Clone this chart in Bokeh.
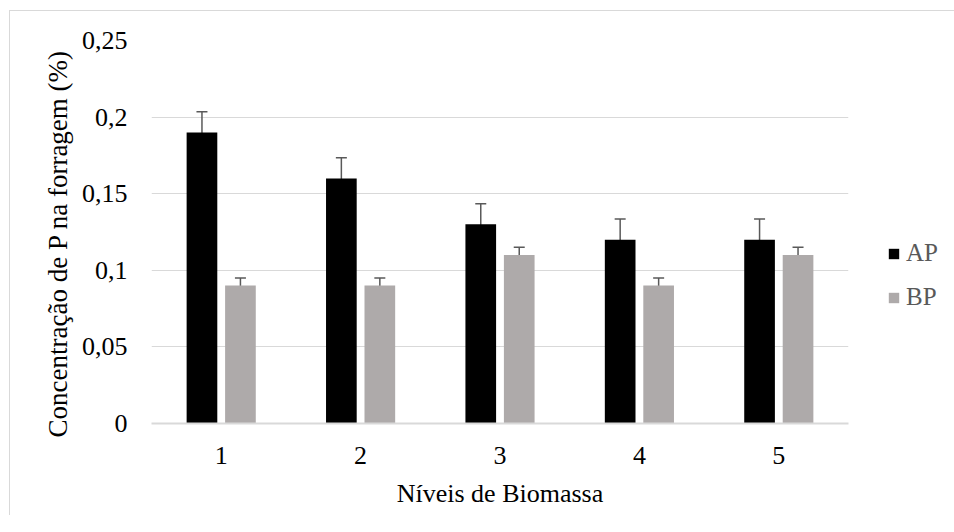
from bokeh.plotting import figure
from bokeh.models import ColumnDataSource, Whisker, TeeHead, Legend, LegendItem, FixedTicker, Title
from bokeh.transform import dodge
from bokeh.embed import file_html
from bokeh.resources import INLINE

levels = ["1", "2", "3", "4", "5"]
ap_values = [0.19, 0.16, 0.13, 0.12, 0.12]
ap_errors = [0.0135, 0.0135, 0.0135, 0.0135, 0.0135]
bp_values = [0.09, 0.09, 0.11, 0.09, 0.11]
bp_errors = [0.005, 0.005, 0.005, 0.005, 0.005]
y_ticks = [0, 0.05, 0.1, 0.15, 0.2, 0.25]
y_tick_labels = ["0", "0,05", "0,1", "0,15", "0,2", "0,25"]
x_title = "Níveis de Biomassa"
y_title = "Concentração de P na forragem (%)"

FONT = "Liberation Serif"

src = ColumnDataSource(dict(
    x=levels,
    ap=ap_values,
    bp=bp_values,
    ap_up=[v + e for v, e in zip(ap_values, ap_errors)],
    ap_lo=[v - e for v, e in zip(ap_values, ap_errors)],
    bp_up=[v + e for v, e in zip(bp_values, bp_errors)],
    bp_lo=[v - e for v, e in zip(bp_values, bp_errors)],
))

p = figure(x_range=levels, y_range=(0, 0.25),
           output_backend="svg", toolbar_location=None,
           frame_width=697, frame_height=383,
           min_border_left=141, min_border_top=29, min_border_right=90, min_border_bottom=92)
p.styles = {"position": "absolute", "left": "9px", "top": "10px",
            "border-left": "1px solid #d9d9d9", "border-top": "1px solid #d9d9d9"}
p.outline_line_color = None

off = 0.138
w = 0.22
r_ap = p.vbar(x=dodge("x", -off, range=p.x_range), top="ap", width=w, source=src,
              fill_color="#000000", line_color=None)
r_bp = p.vbar(x=dodge("x", off, range=p.x_range), top="bp", width=w, source=src,
              fill_color="#aeaaaa", line_color=None)

for col, o in (("ap", -off), ("bp", off)):
    wh = Whisker(base=dodge("x", o, range=p.x_range), upper=col + "_up", lower=col + "_lo",
                 source=src, line_color="#595959", line_width=1.5,
                 upper_head=TeeHead(size=11, line_color="#595959", line_width=1.5),
                 lower_head=TeeHead(size=11, line_color="#595959", line_width=1.5))
    p.add_layout(wh)

p.yaxis.ticker = FixedTicker(ticks=y_ticks)
p.yaxis.major_label_overrides = {t: l for t, l in zip(y_ticks, y_tick_labels)}
p.ygrid.grid_line_color = "#d9d9d9"
p.ygrid.grid_line_width = 1
p.xgrid.grid_line_color = None

for ax in (p.xaxis[0], p.yaxis[0]):
    ax.major_tick_line_color = None
    ax.minor_tick_line_color = None
    ax.major_label_text_font = FONT
    ax.major_label_text_font_size = "26px"
    ax.major_label_text_color = "#000000"
    ax.axis_label_text_font = FONT
    ax.axis_label_text_font_style = "normal"
    ax.axis_label_text_color = "#000000"

p.xaxis.axis_label_text_font_size = "26px"
p.yaxis.axis_line_color = None
p.xaxis.axis_line_color = "#d9d9d9"
p.xaxis.axis_line_width = 2
p.yaxis.major_label_standoff = 18
p.xaxis.major_label_standoff = 17
p.xaxis.axis_label = x_title
p.xaxis.axis_label_standoff = 12

ytitle = Title(text=y_title, align="left", offset=-14, standoff=12,
               text_font=FONT, text_font_size="27px", text_font_style="normal",
               text_color="#000000")
p.add_layout(ytitle, "left")

legend = Legend(items=[LegendItem(label="AP", renderers=[r_ap]),
                       LegendItem(label="BP", renderers=[r_bp])],
                location=(39, 112), orientation="vertical",
                glyph_width=13, glyph_height=13, label_standoff=6,
                spacing=16, padding=0, margin=0,
                border_line_color=None, background_fill_alpha=0,
                label_text_font=FONT, label_text_font_size="25px",
                label_text_color="#595959")
p.add_layout(legend, "right")

open("out.html", "w").write(file_html(p, INLINE))
